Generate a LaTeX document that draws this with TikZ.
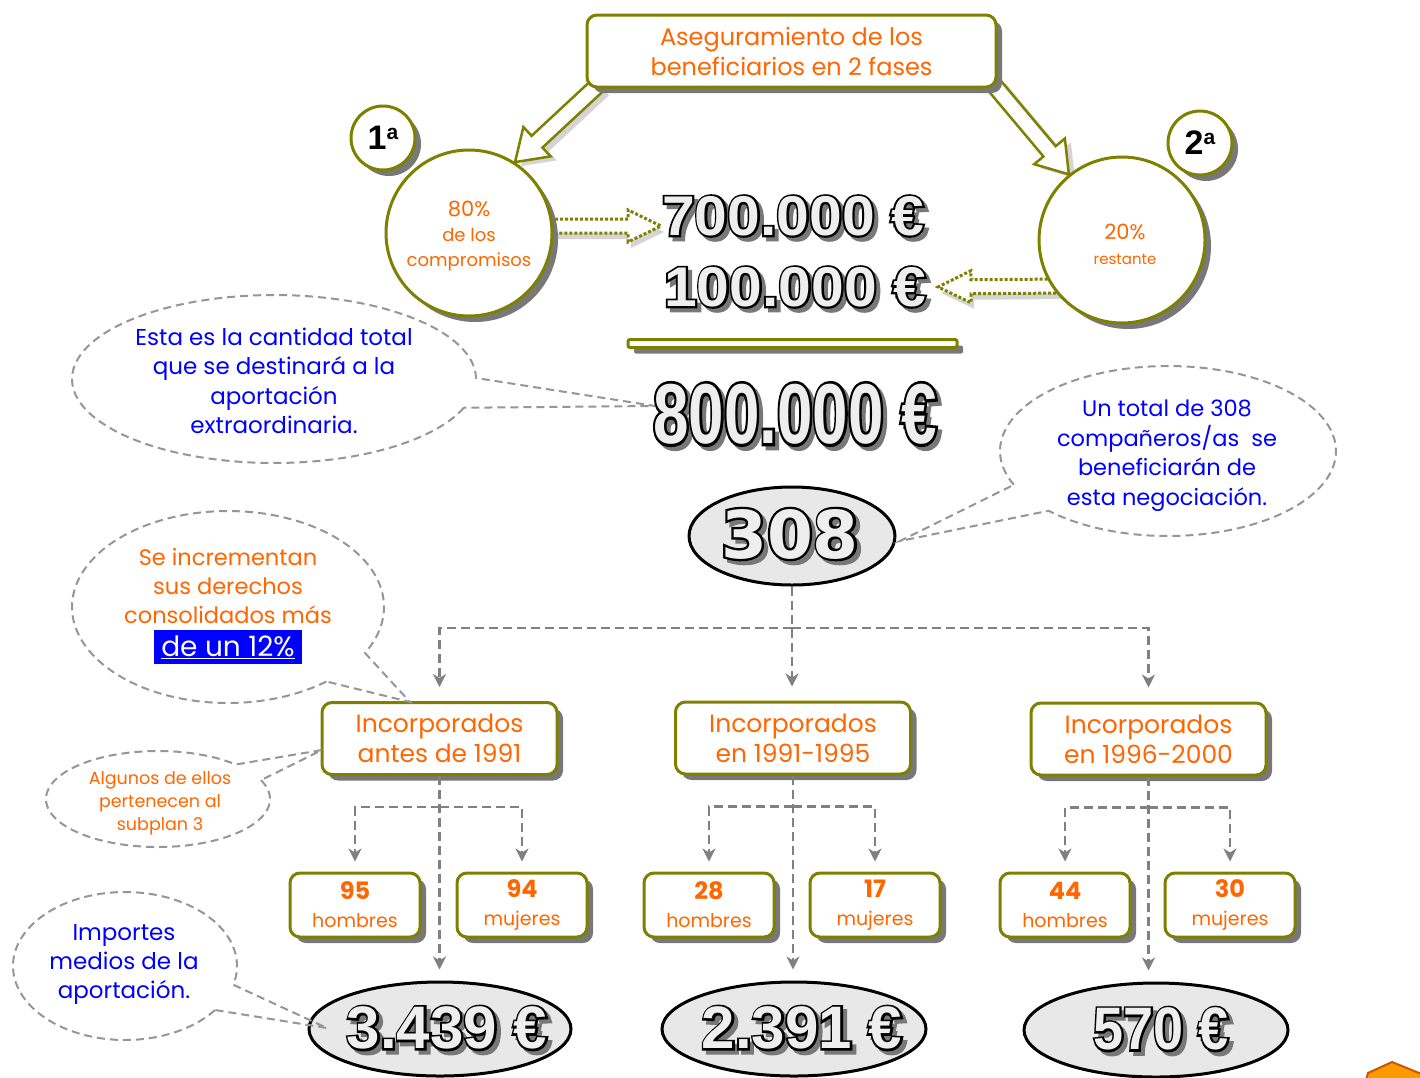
\documentclass[tikz,border=0pt]{standalone}
\usepackage{fontspec}
\usepackage{graphicx}
\setmainfont{Poppins}
\newfontfamily\numfont{Liberation Sans}
\newfontfamily\heavyfont{DejaVu Sans}
\newfontfamily\numout{Liberation Sans Bold}[FakeBold=7]
\newfontfamily\heavyout{DejaVu Sans Bold}[FakeBold=7]
\usetikzlibrary{calc,arrows.meta,shadows,shapes.geometric,backgrounds}
\definecolor{olv}{RGB}{128,128,0}
\definecolor{org}{RGB}{255,102,0}
\definecolor{blu}{RGB}{0,0,255}
\definecolor{cgray}{RGB}{128,128,128}
\definecolor{callgray}{RGB}{150,150,150}
\definecolor{shd}{RGB}{120,120,120}
\definecolor{lshd}{RGB}{212,212,212}
\definecolor{numfill}{RGB}{238,238,238}
\definecolor{ellfill}{RGB}{232,232,232}
\definecolor{btnfill}{RGB}{255,153,0}
\definecolor{btndraw}{RGB}{204,85,0}
\newcommand\fs[2]{\fontsize{#1}{#2}\selectfont}
% outlined big number: #1 name, #2 position, #3 outline font, #4 fill font, #5 size, #6 xscale, #7 text
\newcommand\bignum[7]{%
  \node[text=shd,inner sep=0pt] at ($(#2)+(4,4)$) {\scalebox{#6}[1]{#3\fs{#5}{#5}#7}};
  \node[text=black,inner sep=0pt] at (#2) {\scalebox{#6}[1]{#3\fs{#5}{#5}#7}};
  \node[text=numfill,inner sep=0pt] (#1) at (#2) {\scalebox{#6}[1]{#4\fs{#5}{#5}#7}};
}
% block arrow: #1 start, #2 end, #3 body half, #4 head half, #5 head length, #6 style
\newcommand\barrow[6]{%
  \coordinate (bp) at ($(#2)!#5!(#1)$);
  \path[#6] ($(#1)!#3!90:(#2)$) -- ($(bp)!#3!90:(#2)$) -- ($(bp)!#4!90:(#2)$) -- (#2)
    -- ($(bp)!#4!-90:(#2)$) -- ($(bp)!#3!-90:(#2)$) -- ($(#1)!#3!-90:(#2)$) -- cycle;
}
% callout ellipse with tail: #1 cx #2 cy #3 rx #4 ry #5 t1 #6 t2 #7 tip
\newcommand\callout[7]{%
  \draw[callout] plot[domain=#5:#6, samples=140, variable=\t] ({#1+#3*cos(\t)},{#2+#4*sin(\t)}) -- (#7) -- cycle;
}
\begin{document}
\begin{tikzpicture}[x=1pt,y=-1pt,
  shadowed/.style={drop shadow={shadow xshift=6pt, shadow yshift=-6pt, fill=shd, opacity=1}},
  box/.style={draw=olv, line width=3pt, rounded corners=10pt, fill=white, align=center, text=org, inner sep=0pt, shadowed},
  catbox/.style={box, minimum width=235pt, minimum height=72pt, font=\fs{25}{30}},
  subbox/.style={box, minimum width=130pt, minimum height=64pt, font=\fs{19}{28}},
  circ/.style={circle, draw=olv, line width=3pt, fill=white, align=center, text=org, inner sep=0pt, shadowed},
  numell/.style={ellipse, draw=black, line width=3pt, fill=ellfill, inner sep=0pt},
  conn/.style={draw=cgray, line width=2.5pt, dash pattern=on 9pt off 5pt},
  tip/.style={-{Stealth[length=13pt,width=13pt,inset=4pt]}},
  callout/.style={draw=callgray, line width=2pt, dash pattern=on 8pt off 5pt},
  note/.style={align=center, inner sep=0pt}]
\useasboundingbox (0,0) rectangle (1420,1077);

% ---------- top ----------
\node[box, minimum width=409pt, minimum height=72pt, font=\fs{24}{30}] (top) at (791.5,51) {Aseguramiento de los\\beneficiarios en 2 fases};
\node[circ, minimum size=64pt, text=black] (bd1) at (383,138) {\numfont\bfseries\fs{34}{34}1\raisebox{10pt}{\fs{21}{21}a}};
\node[circ, minimum size=64pt, text=black] (bd2) at (1200,143) {\numfont\bfseries\fs{34}{34}2\raisebox{10pt}{\fs{21}{21}a}};
\node[circ, minimum size=166pt] (c1) at (469,233) {};
\node[note, text=org, font=\fs{18}{25}] (c1t) at (469,236) {{\fs{21}{25}80\%}\\de los\\compromisos};
\node[circ, minimum size=166pt] (c2) at (1122,240) {};
\node[note, text=org, font=\fs{15}{25}] (c2t) at (1125,244) {{\fs{21}{25}20\%}\\restante};

\bignum{n700}{793,216}{\numout}{\numfont\bfseries}{56}{1.05}{700.000 €}
\bignum{n100}{795,287}{\numout}{\numfont\bfseries}{56}{1.05}{100.000 €}
\node[draw=olv, line width=3pt, fill=white, rounded corners=2pt, minimum width=329pt, minimum height=8pt, inner sep=0pt, shadowed] (bar) at (792.5,343.5) {};
\bignum{n800}{795,414}{\numout}{\numfont\bfseries}{85}{0.75}{800.000 €}

% ---------- tree ----------
\node[numell, minimum width=206pt, minimum height=98pt] (e308) at (792,536) {};
\bignum{t308}{790,534}{\heavyout}{\heavyfont\bfseries}{66}{1.0}{308}

\node[catbox] (b1) at (439.5,738.5) {Incorporados\\antes de 1991};
\node[catbox] (b2) at (793,738) {Incorporados\\en 1991-1995};
\node[catbox] (b3) at (1148.5,739) {Incorporados\\en 1996-2000};

\node[subbox] (h1) at (355,905) {{\fs{24}{28}\bfseries 95}\\hombres};
\node[subbox] (m1) at (522,905) {{\fs{24}{28}\bfseries 94}\\mujeres};
\node[subbox] (h2) at (709,905) {{\fs{24}{28}\bfseries 28}\\hombres};
\node[subbox] (m2) at (875,905) {{\fs{24}{28}\bfseries 17}\\mujeres};
\node[subbox] (h3) at (1065,905) {{\fs{24}{28}\bfseries 44}\\hombres};
\node[subbox] (m3) at (1230,905) {{\fs{24}{28}\bfseries 30}\\mujeres};

\node[numell, minimum width=262pt, minimum height=94pt] (e1) at (440,1029) {};
\node[numell, minimum width=264pt, minimum height=94pt] (e2) at (794,1029) {};
\node[numell, minimum width=264pt, minimum height=94pt] (e3) at (1156,1030) {};
\bignum{t1}{447,1028}{\numout}{\numfont\bfseries}{60}{1}{3.439 €}
\bignum{t2}{802,1028}{\numout}{\numfont\bfseries}{60}{1}{2.391 €}
\bignum{t3}{1161,1029}{\numout}{\numfont\bfseries}{60}{0.9}{570 €}

\coordinate (j0) at (792,628);
\draw[conn,tip,shorten >=14pt] (e308.south) -- (e308.south |- b2.north);
\draw[conn,tip,shorten >=14pt] (j0) -| (b1.north);
\draw[conn,tip,shorten >=14pt] (j0) -| (b3.north);

\coordinate (k1) at ($(b1.south)+(0,31)$);
\coordinate (k2) at ($(b2.south)+(0,31)$);
\coordinate (k3) at ($(b3.south)+(0,31)$);
\draw[conn,tip,shorten >=11pt] (b1.south) -- (b1.south |- e1.north);
\draw[conn,tip,shorten >=11pt] (b2.south) -- (b2.south |- e2.north);
\draw[conn,tip,shorten >=11pt] (b3.south) -- (b3.south |- e3.north);
\draw[conn,tip,shorten >=10pt] (k1) -| (h1.north);
\draw[conn,tip,shorten >=10pt] (k1) -| (m1.north);
\draw[conn,tip,shorten >=10pt] (k2) -| (h2.north);
\draw[conn,tip,shorten >=10pt] (k2) -| (m2.north);
\draw[conn,tip,shorten >=10pt] (k3) -| (h3.north);
\draw[conn,tip,shorten >=10pt] (k3) -| (m3.north);

% ---------- callouts ----------
\coordinate (tipa) at (655,406);
\coordinate (tipb) at (900,541);
\coordinate (tipc) at (410,702);
\coordinate (tipd) at (322,750);
\coordinate (tipe) at (327,1028);
\callout{274}{379}{202}{84}{20}{359.3}{tipa}
\callout{1168}{451}{168}{85}{156.6}{495.3}{tipb}
\callout{228}{607}{156}{96}{50.9}{388.6}{tipc}
\callout{158}{799}{112}{48}{336.9}{674}{tipd}
\callout{125}{966}{112}{74}{36.5}{374.7}{tipe}

\node[note, text=blu, font=\fs{23}{29.5}] (ta) at (274,381) {Esta es la cantidad total\\que se destinará a la\\aportación\\extraordinaria.};
\node[note, text=blu, font=\fs{22.5}{29.5}] (tb) at (1167,455.5) {Un total de 308\\compañeros/as\ \ se\\beneficiarán de\\esta negociación.};
\node[note, text=org, font=\fs{22.5}{29}] (tc) at (228,586) {Se incrementan\\sus derechos\\consolidados más};
\node[fill=blu, text=white, inner sep=0pt, minimum width=148pt, minimum height=34pt, font=\fs{28}{28}] (hl) at (228,647) {\underline{de un 12\%}};
\node[note, text=org, font=\fs{17.5}{23}] (td) at (160,803) {Algunos de ellos\\pertenecen al\\subplan 3};
\node[note, text=blu, font=\fs{23}{29}] (te) at (124,964) {Importes\\medios de la\\aportación.};

% corner button
\filldraw[fill=btnfill, draw=btndraw, line width=2pt] (1366,1080) -- (1368,1073) -- (1392,1062) -- (1424,1075) -- (1424,1080) -- cycle;

% ---------- arrows (background) ----------
\begin{pgfonlayer}{background}
\fill[white] (0,0) rectangle (1420,1077);
\coordinate (la-s) at ($(top.south west)+(12,-3)$);
\coordinate (la-e) at (c1.57);
\coordinate (la-ss) at ($(la-s)+(6,4)$);
\coordinate (la-se) at ($(la-e)+(6,4)$);
\barrow{la-ss}{la-se}{8pt}{20pt}{30pt}{fill=lshd}
\barrow{la-s}{la-e}{8pt}{20pt}{30pt}{draw=olv, line width=2.5pt, fill=white, line join=miter}
\coordinate (ra-s) at ($(top.south east)+(-4,-4)$);
\coordinate (ra-e) at (c2.129);
\coordinate (ra-ss) at ($(ra-s)+(6,4)$);
\coordinate (ra-se) at ($(ra-e)+(6,4)$);
\barrow{ra-ss}{ra-se}{8pt}{20pt}{30pt}{fill=lshd}
\barrow{ra-s}{ra-e}{8pt}{20pt}{30pt}{draw=olv, line width=2.5pt, fill=white, line join=miter}
% dotted arrows
\coordinate (da-s) at (540,226);
\coordinate (da-e) at (661,226);
\coordinate (da-ss) at (543,232);
\coordinate (da-se) at (664,232);
\barrow{da-ss}{da-se}{7pt}{16pt}{33pt}{fill=lshd}
\barrow{da-s}{da-e}{7pt}{16pt}{33pt}{draw=olv, line width=3pt, dash pattern=on 3pt off 2pt, fill=white}
\coordinate (db-s) at (1066,286);
\coordinate (db-e) at (938,287);
\coordinate (db-ss) at (1069,292);
\coordinate (db-se) at (941,293);
\barrow{db-ss}{db-se}{7pt}{16pt}{33pt}{fill=lshd}
\barrow{db-s}{db-e}{7pt}{16pt}{33pt}{draw=olv, line width=3pt, dash pattern=on 3pt off 2pt, fill=white}
\end{pgfonlayer}
\end{tikzpicture}
\end{document}
